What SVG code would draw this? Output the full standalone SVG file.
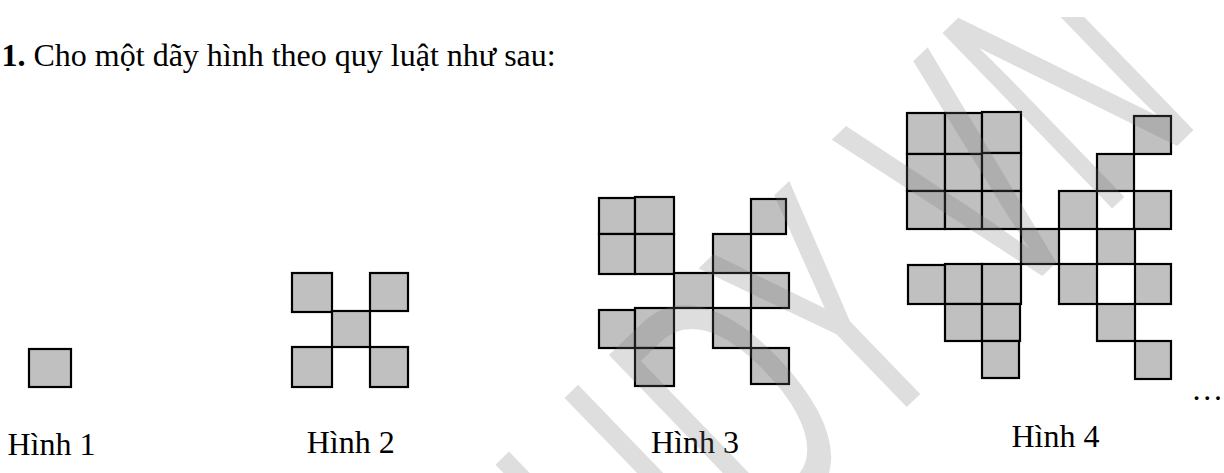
<svg xmlns="http://www.w3.org/2000/svg" width="1224" height="473" viewBox="0 0 1224 473">
<style>
.sq{fill:#c0c0c0;stroke:#000;stroke-width:2.2;stroke-linejoin:miter}
.t{font-family:"Liberation Serif","Times New Roman",serif;font-size:32px;fill:#000}
.wm{font-family:"Liberation Sans",Arial,sans-serif;font-size:355px;fill:#777;fill-opacity:0.24}
</style>
<defs>
<clipPath id="page"><rect x="0" y="17" width="1224" height="456"/></clipPath>
</defs>
<rect width="1224" height="473" fill="#fff"/>
<text id="title" class="t" x="1.5" y="65.5"><tspan font-weight="bold">1.</tspan> Cho một dãy hình theo quy luật như sau:</text>

<g id="hinh1">
<rect class="sq" x="29" y="349" width="42" height="38"/>
<text class="t" x="7.5" y="455">Hình 1</text>
</g>

<g id="hinh2">
<rect class="sq" x="292" y="273" width="40" height="39"/>
<rect class="sq" x="370" y="273" width="38" height="38"/>
<rect class="sq" x="332" y="311" width="38" height="36"/>
<rect class="sq" x="292" y="347" width="40" height="40"/>
<rect class="sq" x="370" y="347" width="38" height="40"/>
<text class="t" x="306.7" y="453">Hình 2</text>
</g>

<g id="hinh3">
<rect class="sq" x="599" y="198" width="36" height="36"/>
<rect class="sq" x="635" y="197" width="39" height="37"/>
<rect class="sq" x="599" y="234" width="36" height="40"/>
<rect class="sq" x="635" y="234" width="39" height="40"/>
<rect class="sq" x="751" y="199" width="35" height="35"/>
<rect class="sq" x="713" y="234" width="38" height="39"/>
<rect class="sq" x="674" y="273" width="39" height="35"/>
<rect class="sq" x="751" y="273" width="38" height="35"/>
<rect class="sq" x="599" y="310" width="36" height="38"/>
<rect class="sq" x="635" y="308" width="39" height="40"/>
<rect class="sq" x="635" y="348" width="39" height="38"/>
<rect class="sq" x="713" y="308" width="38" height="40"/>
<rect class="sq" x="751" y="348" width="38" height="36"/>
<text class="t" x="651" y="453">Hình 3</text>
</g>

<g id="hinh4">
<rect class="sq" x="907" y="113" width="38" height="41"/>
<rect class="sq" x="945" y="113" width="37" height="41"/>
<rect class="sq" x="982" y="112" width="39" height="41"/>
<rect class="sq" x="907" y="154" width="38" height="37"/>
<rect class="sq" x="945" y="154" width="37" height="37"/>
<rect class="sq" x="982" y="153" width="39" height="38"/>
<rect class="sq" x="907" y="191" width="38" height="38"/>
<rect class="sq" x="945" y="191" width="37" height="38"/>
<rect class="sq" x="982" y="191" width="39" height="38"/>
<rect class="sq" x="1134" y="116" width="37" height="38"/>
<rect class="sq" x="1097" y="154" width="37" height="37"/>
<rect class="sq" x="1059" y="191" width="38" height="38"/>
<rect class="sq" x="1134" y="191" width="37" height="38"/>
<rect class="sq" x="1021" y="229" width="38" height="35"/>
<rect class="sq" x="1097" y="229" width="38" height="35"/>
<rect class="sq" x="1059" y="264" width="38" height="40"/>
<rect class="sq" x="1135" y="264" width="36" height="40"/>
<rect class="sq" x="1097" y="304" width="38" height="37"/>
<rect class="sq" x="1135" y="341" width="36" height="38"/>
<rect class="sq" x="908" y="265" width="37" height="39"/>
<rect class="sq" x="945" y="264" width="37" height="40"/>
<rect class="sq" x="982" y="264" width="39" height="40"/>
<rect class="sq" x="945" y="304" width="37" height="37"/>
<rect class="sq" x="982" y="304" width="38" height="37"/>
<rect class="sq" x="982" y="341" width="37" height="37"/>
<text class="t" x="1011.5" y="447">Hình 4</text>
</g>

<text id="ellipsis" class="t" x="1191.3" y="400">…</text>

<g id="watermark" clip-path="url(#page)">
<text class="wm" transform="translate(1118,203) rotate(-44) scale(0.57,1)" x="-1132 -857 -617 -285.8 -43.3" y="0">UDYVN</text>
</g>
</svg>
